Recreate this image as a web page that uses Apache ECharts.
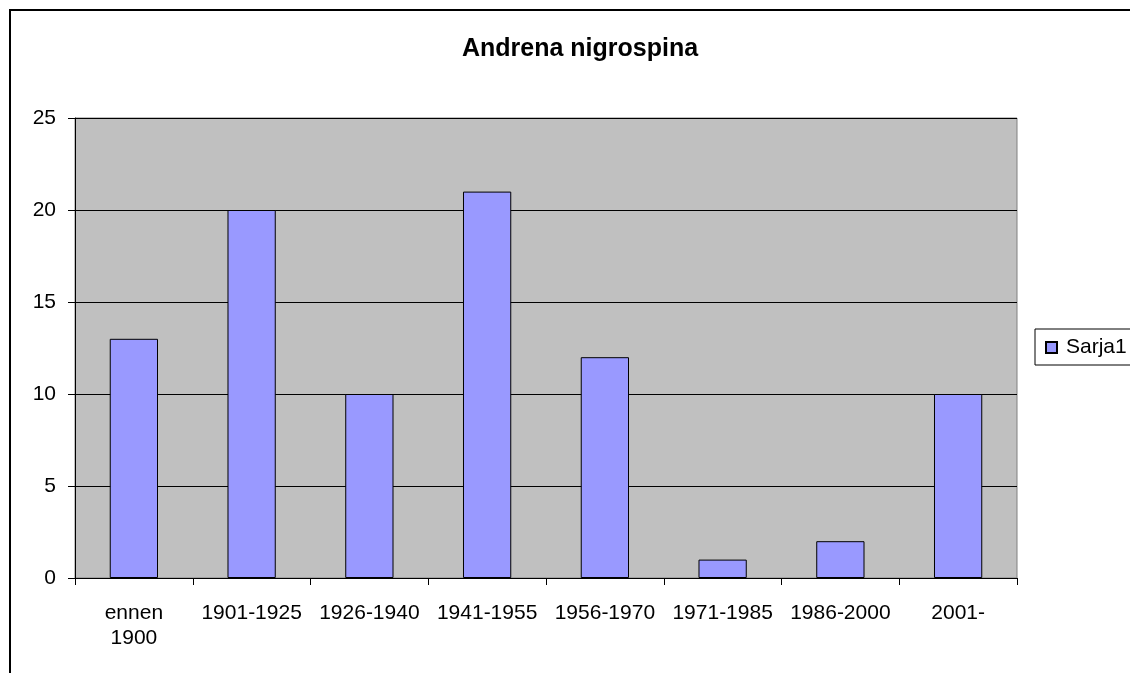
<!DOCTYPE html>
<html>
<head>
<meta charset="utf-8">
<script src="https://cdn.jsdelivr.net/npm/echarts@6/dist/echarts.min.js"></script>
<style>
  html, body { margin: 0; padding: 0; background: #fff; overflow: hidden; }
  #frame { position: absolute; left: 9px; top: 9px; width: 1200px; height: 700px; border: 2px solid #000; box-sizing: border-box; }
  #chart { position: absolute; left: 0; top: 0; width: 1130px; height: 673px; }
</style>
</head>
<body>
<div id="frame"></div>
<div id="chart"></div>
<script>
// Andrena nigrospina observations by period
const categories = ['ennen\n1900', '1901-1925', '1926-1940', '1941-1955', '1956-1970', '1971-1985', '1986-2000', '2001-']
const values = [13, 20, 10, 21, 12, 1, 2, 10]
const seriesName = 'Sarja1'

const chart = echarts.init(document.getElementById('chart'))

chart.setOption({
  animation: false,
  textStyle: { fontFamily: 'Liberation Sans, Arial, sans-serif' },
  title: {
    text: 'Andrena nigrospina',
    left: 575,
    textAlign: 'center',
    top: 32,
    textStyle: { fontSize: 25, fontWeight: 'bold', color: '#000' }
  },
  legend: {
    left: 1035,
    top: 329,
    orient: 'vertical',
    padding: [8, 40, 7, 10],
    borderColor: '#000',
    borderWidth: 1,
    backgroundColor: '#fff',
    itemWidth: 11,
    itemHeight: 11,
    icon: 'rect',
    textStyle: { fontSize: 21, color: '#000', padding: [0, 0, 0, 4] },
    data: [seriesName]
  },
  grid: {
    left: 75,
    top: 118,
    width: 942,
    height: 460,
    show: true,
    backgroundColor: '#c0c0c0',
    borderColor: '#808080',
    borderWidth: 1
  },
  xAxis: {
    type: 'category',
    data: categories,
    axisLine: { show: true, lineStyle: { color: '#000', width: 1 } },
    axisTick: { show: true, length: 7, lineStyle: { color: '#000' } },
    axisLabel: { fontSize: 21, color: '#000', margin: 23, lineHeight: 25, interval: 0 },
    splitLine: { show: false }
  },
  yAxis: {
    type: 'value',
    min: 0,
    max: 25,
    interval: 5,
    axisLine: { show: true, lineStyle: { color: '#000', width: 1 } },
    axisTick: { show: true, length: 7, lineStyle: { color: '#000' } },
    axisLabel: { fontSize: 21, color: '#000', margin: 19 },
    splitLine: { show: true, lineStyle: { color: '#000', width: 1 } }
  },
  series: [{
    name: seriesName,
    type: 'bar',
    data: values,
    barWidth: '41%',
    itemStyle: { color: '#9999ff', borderColor: '#000', borderWidth: 1 }
  }]
})
</script>
</body>
</html>
